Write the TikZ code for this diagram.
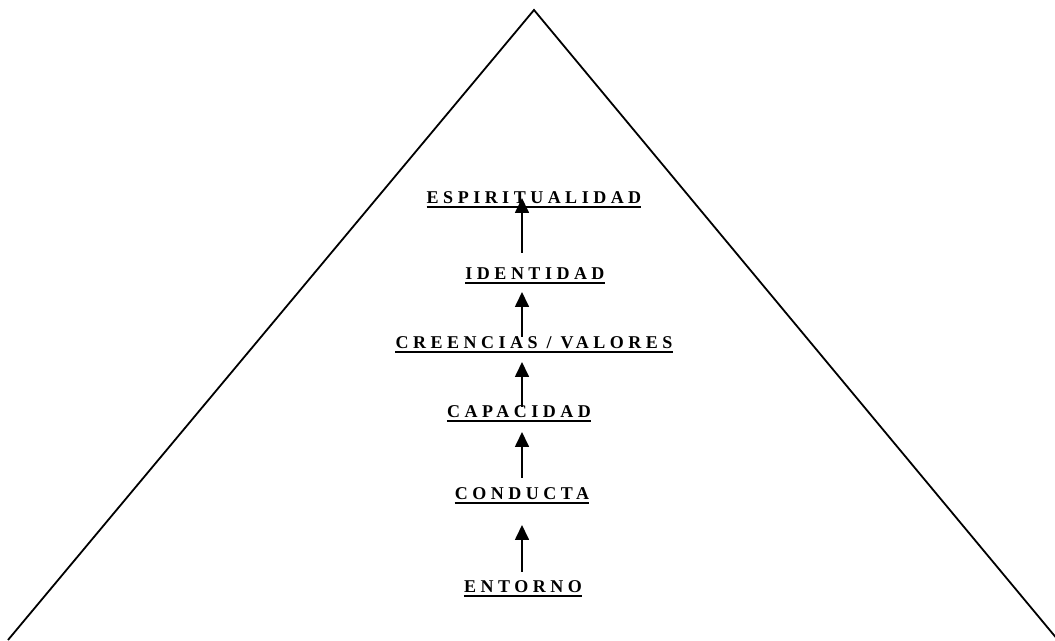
\documentclass[tikz,border=0pt]{standalone}
\usepackage{fontspec}
\setmainfont{Liberation Serif}
\newfontfamily\levelfam[LetterSpace=25]{Liberation Serif}
\usetikzlibrary{calc,arrows.meta}

\begin{document}
\begin{tikzpicture}[x=1pt, y=1pt,
    level/.style={font=\levelfam\bfseries\fontsize{18}{21}\selectfont, inner sep=0pt, anchor=base},
    uline/.style={line width=1.9pt},
    flow/.style={line width=1.7pt, -{Triangle[length=15pt, width=14pt]}}]
  \useasboundingbox (0,0) rectangle (1055,640);
  \clip (0,0) rectangle (1055,640);

  % pyramid
  \coordinate (apex) at (534,630);
  \coordinate (bl) at (8,0);
  \coordinate (br) at (1058,0);
  \draw[line width=1.8pt] (bl) -- (apex) -- (br);

  % levels, bottom to top
  \node[level] (entorno)  at (523,47)  {ENTORNO};
  \node[level] (conducta) at (522,140) {CONDUCTA};
  \node[level] (capacidad) at (519,222) {CAPACIDAD};
  \node[level] (creencias) at (534,291) {CREENCIAS / VALORES};
  \node[level] (identidad) at (535,360) {IDENTIDAD};
  \node[level] (espiritualidad) at (534,436) {ESPIRITUALIDAD};

  \foreach \n in {entorno,conducta,capacidad,creencias,identidad,espiritualidad}
    \draw[uline] ($(\n.base west)+(0,-3)$) -- ($(\n.base east)+(0,-3)$);

  % arrows up the spine
  \coordinate (spine) at (522,0);
  \draw[flow] ($(entorno.base -| spine)+(0,21)$) -- ($(conducta.base -| spine)+(0,-25)$);
  \draw[flow] ($(conducta.base -| spine)+(0,22)$) -- ($(capacidad.base -| spine)+(0,-14)$);
  \draw[flow] ($(capacidad.base -| spine)+(0,11)$) -- ($(creencias.base -| spine)+(0,-13)$);
  \draw[flow] ($(creencias.base -| spine)+(0,12)$) -- ($(identidad.base -| spine)+(0,-12)$);
  \draw[flow] ($(identidad.base -| spine)+(0,27)$) -- ($(espiritualidad.base -| spine)+(0,6)$);
\end{tikzpicture}
\end{document}
